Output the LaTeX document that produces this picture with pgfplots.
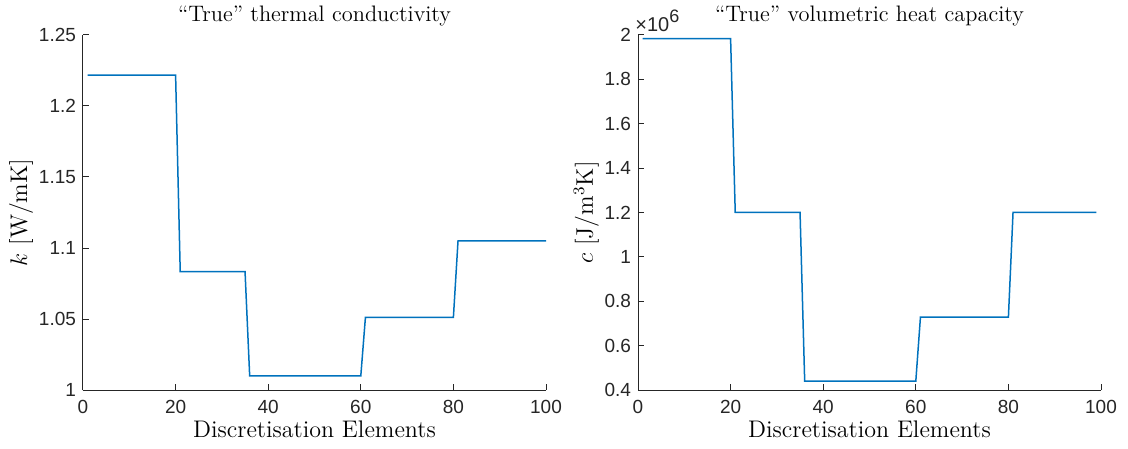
\documentclass[border=0pt]{standalone}
\usepackage{fontspec}
\setsansfont{Liberation Sans}
\usepackage{pgfplots}
\pgfplotsset{compat=1.18}
\definecolor{mblue}{rgb}{0,0.447,0.741}
\definecolor{axgray}{rgb}{0.15,0.15,0.15}
\begin{document}
\begin{tikzpicture}
\path[use as bounding box] (-41.5pt,-29.5pt) rectangle (522.5pt,195pt);
\pgfplotsset{
  every axis/.append style={
    scale only axis, width=231.5pt, height=177.5pt,
    axis lines*=left, tick align=inside, clip=false,
    axis line style={axgray, line width=0.5pt},
    every tick/.style={axgray, line width=0.5pt},
    major tick length=3pt,
    /pgf/number format/assume math mode=true,
    tick label style={font=\sffamily\fontsize{9.5}{11}\selectfont, text=axgray},
    xticklabel style={yshift=-1.5pt},
    label style={font=\fontsize{12}{14}\selectfont},
    title style={font=\fontsize{11.2}{13}\selectfont, yshift=-5pt},
    xmin=0, xmax=100, xtick={0,20,...,100},
    xlabel={Discretisation Elements},
    xlabel style={yshift=3pt},
    ylabel style={yshift=-4pt},
  }
}
\begin{axis}[at={(0pt,0pt)}, anchor=south west,
  ymin=1, ymax=1.25, ytick={1,1.05,1.1,1.15,1.2,1.25},
  yticklabels={1,1.05,1.1,1.15,1.2,1.25},
  title={``True'' thermal conductivity},
  ylabel={$k$ [W/mK]}]
\addplot[mblue, line width=0.75pt] coordinates {
(1,1.2218)(20,1.2218)(21,1.0833)(35,1.0833)(36,1.0099)(60,1.0099)(61,1.0512)(80,1.0512)(81,1.1051)(100,1.1051)};
\end{axis}
\begin{axis}[at={(277.5pt,0pt)}, anchor=south west,
  ymin=0.4e6, ymax=2e6, ytick={0.4e6,0.6e6,0.8e6,1e6,1.2e6,1.4e6,1.6e6,1.8e6,2e6},
  yticklabels={0.4,0.6,0.8,1,1.2,1.4,1.6,1.8,2},
  scaled y ticks=false,
  title={``True'' volumetric heat capacity},
  ylabel={$c$ [J/m$^3$K]}]
\addplot[mblue, line width=0.75pt] coordinates {
(1,1.984e6)(20,1.984e6)(21,1.2e6)(35,1.2e6)(36,0.44e6)(60,0.44e6)(61,0.728e6)(80,0.728e6)(81,1.2e6)(99,1.2e6)};
\node[anchor=base west, inner sep=0pt, font=\sffamily\fontsize{10}{12}\selectfont, text=axgray] at (rel axis cs:0,1) [xshift=-1.5pt, yshift=1.5pt] {×10\raisebox{0.9ex}{\fontsize{9}{10}\selectfont 6}};
\end{axis}
\end{tikzpicture}
\end{document}
